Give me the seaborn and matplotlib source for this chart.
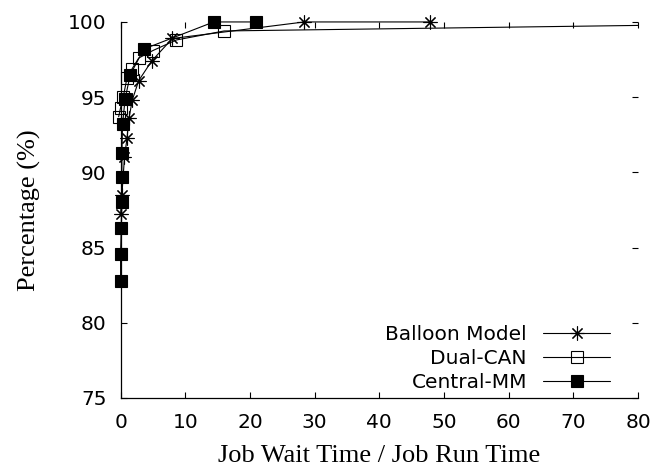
import matplotlib
matplotlib.use("Agg")
import matplotlib.pyplot as plt
from matplotlib.transforms import Bbox, TransformedBbox
import seaborn as sns
import pandas as pd

# ---- data ----
balloon_x = [0.0, 0.2, 0.6, 1.0, 1.3, 1.8, 2.8, 4.8, 8.0, 28.4, 47.8]
balloon_y = [87.2, 88.5, 91.0, 92.3, 93.6, 94.8, 96.1, 97.4, 98.9, 100.0, 100.0]

dual_x = [-0.3, 0.0, 0.4, 1.0, 1.8, 2.8, 5.0, 8.6, 16.0, 120.0]
dual_y = [93.7, 94.3, 95.0, 96.3, 96.9, 97.6, 98.1, 98.8, 99.4, 100.0]

central_x = [0.0, 0.0, 0.1, 0.2, 0.2, 0.2, 0.3, 0.7, 1.5, 3.6, 14.4, 20.9]
central_y = [82.8, 84.6, 86.3, 88.0, 89.7, 91.3, 93.2, 94.9, 96.5, 98.2, 100.0, 100.0]

series_names = ["Balloon Model", "Dual-CAN", "Central-MM"]
x_ticks = [0, 10, 20, 30, 40, 50, 60, 70, 80]
y_ticks = [75, 80, 85, 90, 95, 100]

frames = []
for name, xs, ys in zip(series_names, [balloon_x, dual_x, central_x],
                        [balloon_y, dual_y, central_y]):
    frames.append(pd.DataFrame({"x": xs, "y": ys, "series": name}))
df = pd.concat(frames, ignore_index=True)

sns.set_style("ticks")
plt.rcParams["font.family"] = ["DejaVu Sans"]
plt.rcParams["text.color"] = "black"
plt.rcParams["axes.labelcolor"] = "black"

fig = plt.figure(figsize=(6.59, 4.73), dpi=100)
ax = fig.add_axes([0.183, 0.1586, 0.7853, 0.795])

styles = {
    "Balloon Model": dict(marker=(8, 2, 0), markersize=10, markerfacecolor="black",
                          markeredgecolor="black", markeredgewidth=0.8),
    "Dual-CAN": dict(marker="s", markersize=8.5, markerfacecolor="none",
                     markeredgecolor="black", markeredgewidth=0.8),
    "Central-MM": dict(marker="s", markersize=8.5, markerfacecolor="black",
                       markeredgecolor="black", markeredgewidth=0.8),
}

for name in series_names:
    sub = df[df["series"] == name]
    sns.lineplot(data=sub, x="x", y="y", sort=False, estimator=None, ax=ax,
                 color="black", linewidth=0.8, label=name, **styles[name])

# let markers spill past the left axis (as in the reference) but clip at right
clip = TransformedBbox(Bbox([[-0.08, -0.05], [1.0, 1.05]]), ax.transAxes)
for ln in ax.lines:
    ln.set_clip_box(clip)

ax.set_xlim(0, 80)
ax.set_ylim(75, 100)
ax.set_xticks(x_ticks)
ax.set_yticks(y_ticks)
ax.tick_params(direction="in", length=4.5, width=0.8, top=True, right=True,
               labelsize=14.5, colors="black")
ax.tick_params(axis="y", pad=10)
ax.tick_params(axis="x", pad=11)
for s in ["top", "right"]:
    ax.spines[s].set_visible(False)
for s in ["left", "bottom"]:
    ax.spines[s].set_linewidth(0.9)
    ax.spines[s].set_color("black")

ax.set_xlabel("Job Wait Time / Job Run Time", fontsize=19,
              family=["Liberation Serif", "DejaVu Serif"], labelpad=9.5)
ax.set_ylabel("Percentage (%)", fontsize=19,
              family=["Liberation Serif", "DejaVu Serif"], labelpad=19.5)

leg = ax.legend(loc="lower right", bbox_to_anchor=(0.946, 0.015),
                frameon=False, markerfirst=False, fontsize=14.5,
                handlelength=3.33, handletextpad=0.8, labelspacing=0.25,
                borderpad=0, borderaxespad=0)
for t in leg.get_texts():
    t.set_color("black")

fig.savefig("out.png", dpi=100)
